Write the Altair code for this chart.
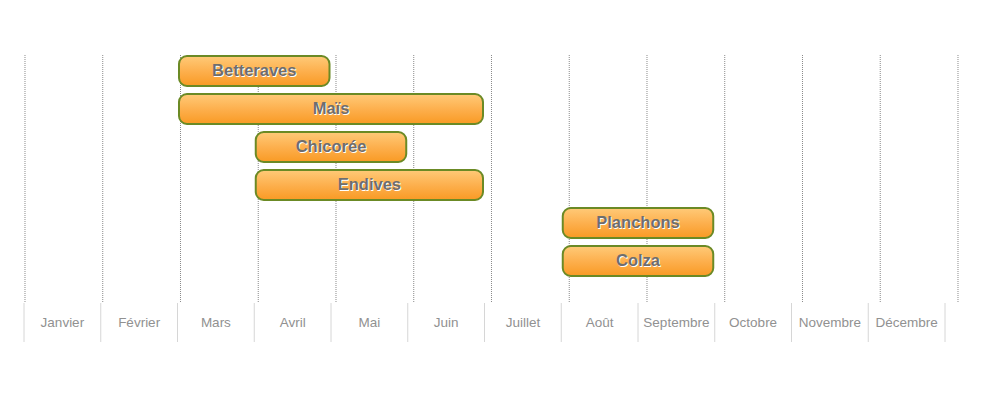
import altair as alt
import pandas as pd

months = ["Janvier", "Février", "Mars", "Avril", "Mai", "Juin", "Juillet",
          "Août", "Septembre", "Octobre", "Novembre", "Décembre"]
tasks = ["Betteraves", "Maïs", "Chicorée", "Endives", "Planchons", "Colza"]
starts = [2, 2, 3, 3, 7, 7]
ends = [4, 6, 5, 6, 9, 9]

bars = pd.DataFrame({"task": tasks, "start": starts, "end": ends})
bars["mid"] = (bars["start"] + bars["end"]) / 2
month_df = pd.DataFrame({"month": months, "idx": list(range(len(months)))})
month_df["center"] = month_df["idx"] + 0.5
bounds = pd.DataFrame({"b": list(range(len(months) + 1))})

W, H = 921, 228
xscale = alt.Scale(domain=[0, 12], nice=False, zero=False)
yscale = alt.Scale(domain=tasks, paddingInner=0.2105, paddingOuter=0.105)

# dotted grid (slightly different pitch than month cells in the original)
grid_scale = alt.Scale(domain=[-0.01286, 11.8328], nice=False, zero=False)
grid = alt.Chart(bounds).mark_rule(color="#8a8a8a", strokeDash=[1, 1], strokeWidth=1).encode(
    x=alt.X("b:Q", scale=grid_scale, axis=None),
    y=alt.value(3),
    y2=alt.value(250),
)

cells = alt.Chart(bounds).mark_rule(color="#d6d6d6", strokeWidth=1).encode(
    x=alt.X("b:Q", scale=xscale, axis=None),
    y=alt.value(251),
    y2=alt.value(290),
)

labels = alt.Chart(month_df).mark_text(
    font="Liberation Sans", fontSize=13.5, color="#919191", baseline="middle"
).encode(
    x=alt.X("center:Q", scale=xscale, axis=None),
    y=alt.value(271),
    text="month:N",
)

gradient = alt.Gradient(
    gradient="linear", x1=0, y1=0, x2=0, y2=1,
    stops=[alt.GradientStop(color="#FFCA78", offset=0),
           alt.GradientStop(color="#FDB04E", offset=0.5),
           alt.GradientStop(color="#F99A24", offset=1)],
)

bar = alt.Chart(bars).mark_bar(
    color=gradient, stroke="#6B8A25", strokeWidth=2, cornerRadius=8,
    xOffset=1.5, x2Offset=-1.5,
).encode(
    x=alt.X("start:Q", scale=xscale, axis=None),
    x2="end:Q",
    y=alt.Y("task:N", scale=yscale, axis=None, sort=tasks),
)

shadow = alt.Chart(bars).mark_text(
    font="Liberation Sans", fontSize=16.5, fontWeight="bold", color="#ffffff",
    baseline="middle", dx=1, dy=1,
).encode(
    x=alt.X("mid:Q", scale=xscale, axis=None),
    y=alt.Y("task:N", scale=yscale, axis=None, sort=tasks),
    text="task:N",
)

text = alt.Chart(bars).mark_text(
    font="Liberation Sans", fontSize=16.5, fontWeight="bold", color="#6e6e6e",
    baseline="middle",
).encode(
    x=alt.X("mid:Q", scale=xscale, axis=None),
    y=alt.Y("task:N", scale=yscale, axis=None, sort=tasks),
    text="task:N",
)

main = alt.layer(cells, labels, bar, shadow, text)

chart = alt.layer(grid, main).resolve_scale(x="independent").properties(
    width=W, height=H,
    background="white",
    autosize=alt.AutoSizeParams(type="none"),
    padding={"left": 16, "top": 44, "right": 20, "bottom": 80},
).configure_view(strokeWidth=0, strokeOpacity=0)

chart.save("out.html", embed_options={"renderer": "svg", "actions": False})
